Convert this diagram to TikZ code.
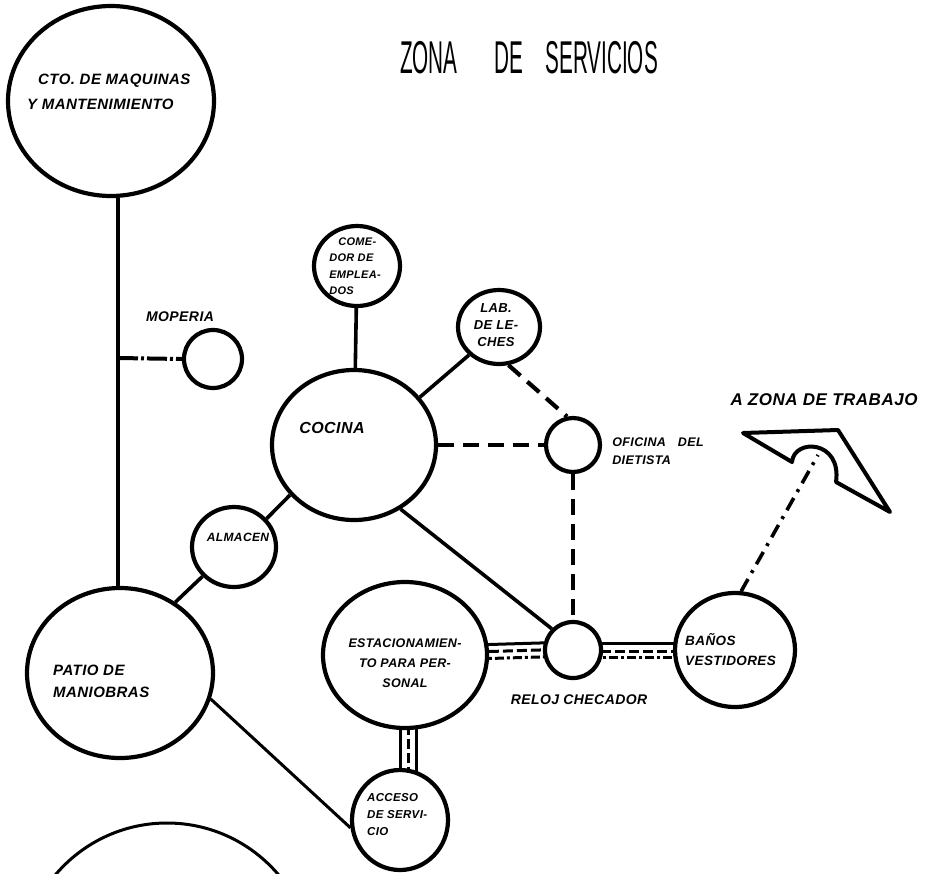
\documentclass[tikz,border=0pt]{standalone}
\usepackage{fontspec}
\setmainfont{Liberation Sans}
\newfontfamily\rotulo[LetterSpace=3]{Liberation Sans}
\newfontfamily\titulo[FakeStretch=0.45]{Liberation Sans}
\usepackage{tikz}
\usetikzlibrary{shapes.geometric, positioning, backgrounds, calc}
\tikzset{
  zcirc/.style={ellipse, draw, line width=4.2pt, fill=white, inner sep=0pt},
  zlbl/.style 2 args={font=\rotulo\bfseries\itshape\fontsize{#1}{#2}\selectfont, inner sep=0pt, align=left},
  zline/.style={line width=3.6pt},
  zdash/.style={line width=4.2pt, dash pattern=on 16pt off 9pt},
  zdot/.style={line width=3.6pt, dash pattern=on 14pt off 7pt on 3pt off 7pt},
  zmop/.style={line width=4pt, dash pattern=on 20pt off 3pt on 3pt off 3pt},
  zsolid/.style={line width=3pt},
  zdashed/.style={line width=3pt, dash pattern=on 10pt off 4pt},
  zdashdot/.style={line width=3pt, dash pattern=on 9pt off 3pt on 3pt off 3pt},
}

\begin{document}
\begin{tikzpicture}[x=1pt, y=-1pt]
    \useasboundingbox (0,0) rectangle (925,873);
    \clip (0,0) rectangle (925,873);
    \node[font=\titulo\fontsize{46}{46}\selectfont, anchor=west, inner sep=0pt] (titulo) at (400,58) {ZONA\hspace{37pt}DE\hspace{22pt}SERVICIOS};
    \node[zcirc, minimum width=206pt, minimum height=190pt] (cto) at (111,101) {};
    \node[zcirc, minimum width=186pt, minimum height=170pt] (patio) at (120,673) {};
    \node[zcirc, minimum size=58pt] (moperia) at (213,359) {};
    \node[zcirc, minimum width=164pt, minimum height=150pt] (cocina) at (354,445) {};
    \node[zcirc, minimum width=86pt, minimum height=80pt] (comedor) at (357,266) {};
    \node[zcirc, minimum width=82pt, minimum height=74pt] (lab) at (499,327) {};
    \node[zcirc, minimum size=54pt] (oficina) at (573,445) {};
    \node[zcirc, minimum size=56pt] (reloj) at (573,650) {};
    \node[zcirc, minimum width=84pt, minimum height=80pt] (almacen) at (234,547) {};
    \node[zcirc, minimum width=164pt, minimum height=146pt] (estac) at (405,655) {};
    \node[zcirc, minimum width=96pt, minimum height=100pt] (acceso) at (400,820) {};
    \node[zcirc, minimum width=120pt, minimum height=114pt] (banos) at (735,650) {};
    \node[zcirc, line width=3pt, minimum size=292pt] (inferior) at (167,969) {};

    \node[zlbl={15}{25}, anchor=west] (ctotxt) at (27,92) {\hspace*{11pt}CTO. DE MAQUINAS\\Y MANTENIMIENTO};
    \node[zlbl={14}{18}] (moptxt) at (180,317) {MOPERIA};
    \node[zlbl={11}{16.5}] (comtxt) at (355,266) {\hspace*{9pt}COME-\\DOR DE\\EMPLEA-\\DOS};
    \node[zlbl={13}{17}, align=center] (labtxt) at (496,325) {LAB.\\DE LE-\\CHES};
    \node[zlbl={16}{20}] (coctxt) at (332,428) {COCINA};
    \node[zlbl={12.5}{18}, right=10pt of oficina, yshift=-6pt] (ofitxt) {OFICINA\hspace{12pt}DEL\\DIETISTA};
    \node[zlbl={14}{18}, below=14pt of reloj, xshift=6pt] (reltxt) {RELOJ CHECADOR};
    \node[zlbl={12}{16}] (almtxt) at (238,537) {ALMACEN};
    \node[zlbl={15}{22}, anchor=west] (pattxt) at (53,681) {PATIO DE\\MANIOBRAS};
    \node[zlbl={12.5}{20}, align=center] (esttxt) at (405,663) {ESTACIONAMIEN-\\TO PARA PER-\\SONAL};
    \node[zlbl={13.5}{20}, anchor=west] (bantxt) at (685,650) {BAÑOS\\VESTIDORES};
    \node[zlbl={11.5}{17}, anchor=west] (acctxt) at (367,815) {ACCESO\\DE SERVI-\\CIO};
    \node[zlbl={17}{20}] (trabtxt) at (824,400) {A ZONA DE TRABAJO};

    \draw[line width=4pt, line join=round] (743,433) -- (838,430) -- (890,512) -- (836,482) .. controls (842,440) and (794,438) .. (792,462) -- cycle;
    \coordinate (puntaflecha) at (818,455);
    \coordinate (nudo) at (118,358);
    \coordinate (eje) at (408,655);

    \draw[zline] (cto.south -| nudo) -- (patio.north -| nudo);
    \draw[zmop] (nudo) -- (moperia.west);
    \draw[zline] (comedor) -- (cocina);
    \draw[zline] (cocina.36) -- (lab.223);
    \draw[zdash] (lab.-76) -- (oficina.102);
    \draw[zdash] (cocina) -- (oficina);
    \draw[zdash] (oficina) -- (reloj);
    \draw[zline] (cocina.-54) -- (reloj.135);
    \draw[zline] (almacen.41) -- (cocina.218);
    \draw[zline] (almacen.223) -- (patio.52);
    \draw[zline, line width=3pt] (patio.-16) -- (acceso.189);
    \draw[zdot] (banos.84) -- (puntaflecha);

    \begin{scope}[on background layer]
    \draw[zsolid] ([yshift=8pt]estac.center) -- ([yshift=8pt]reloj.center);
    \draw[zdashed] ([yshift=1pt]estac.center) -- ([yshift=1pt]reloj.center);
    \draw[zdashdot] ([yshift=-6pt]estac.center) -- ([yshift=-6pt]reloj.center);
    \draw[zsolid] ([yshift=7pt]reloj.center) -- ([yshift=7pt]banos.center);
    \draw[zdashed] ([yshift=-1pt]reloj.center) -- ([yshift=-1pt]banos.center);
    \draw[zdashdot] ([yshift=-7pt]reloj.center) -- ([yshift=-7pt]banos.center);
    \draw[zsolid] ($(eje)+(-8,0)$) -- ($(eje |- acceso)+(-8,0)$);
    \draw[zdashed] (eje) -- (eje |- acceso);
    \draw[zsolid] ($(eje)+(8,0)$) -- ($(eje |- acceso)+(8,0)$);
    \end{scope}
  \end{tikzpicture}
\end{document}
